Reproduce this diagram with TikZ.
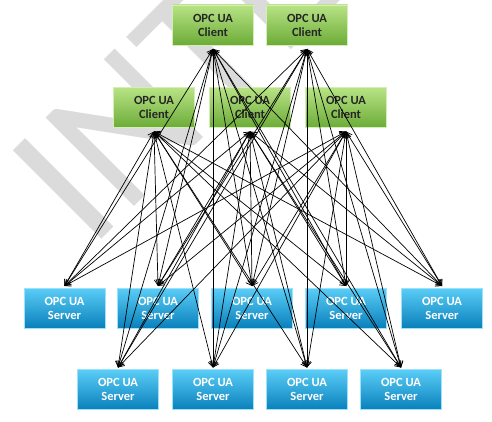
\documentclass[tikz,border=0pt]{standalone}
\usepackage{fontspec}
\setmainfont{Carlito}
\usetikzlibrary{arrows.meta}
\definecolor{gtop}{HTML}{B8E385}
\definecolor{gbot}{HTML}{6CAC38}
\definecolor{btop}{HTML}{5ACEF7}
\definecolor{bbot}{HTML}{0A80BC}
\definecolor{wm}{HTML}{DBDBDB}
\tikzset{
  box/.style={minimum width=81pt, minimum height=40pt, inner sep=0pt, align=center,
    font=\fontsize{12.5}{14}\selectfont\bfseries},
  client/.style={box, top color=gtop, bottom color=gbot, draw=gtop!60!white, line width=0.6pt,
    text=black!85, outer ysep=4pt},
  server/.style={box, top color=btop, bottom color=bbot, draw=btop!60!white, line width=0.6pt,
    text=white, outer ysep=2pt},
  link/.style={draw=black, line width=0.7pt, {Straight Barb[length=5.5pt,width=7pt]}-{Straight Barb[length=5.5pt,width=7pt]}},
  watermark/.style={text=wm, font=\fontsize{195}{195}\selectfont, inner sep=0pt, rotate=45, anchor=base west}
}
\begin{document}
\begin{tikzpicture}[x=1pt,y=-1pt]
\useasboundingbox (0,0) rectangle (492,422);
\clip (0,0) rectangle (492,422);
\node[watermark] (wmark) at (90,251) {INTERNAL};
\node[client] (c1) at (213,25) {OPC UA\\Client};
\node[client] (c2) at (307,25) {OPC UA\\Client};
\node[client] (c3) at (154,107.5) {OPC UA\\Client};
\node[client] (c4) at (250,107.5) {OPC UA\\Client};
\node[client] (c5) at (346,107.5) {OPC UA\\Client};
\node[server] (s1) at (64.5,308) {OPC UA\\Server};
\node[server] (s2) at (158,308) {OPC UA\\Server};
\node[server] (s3) at (252,308) {OPC UA\\Server};
\node[server] (s4) at (346,308) {OPC UA\\Server};
\node[server] (s5) at (442,308) {OPC UA\\Server};
\node[server] (s6) at (118,389.5) {OPC UA\\Server};
\node[server] (s7) at (213,389.5) {OPC UA\\Server};
\node[server] (s8) at (307,389.5) {OPC UA\\Server};
\node[server] (s9) at (401,389.5) {OPC UA\\Server};
\foreach \c in {c1,c2,c3,c4,c5}{
  \foreach \s in {s1,s2,s3,s4,s5,s6,s7,s8,s9}{
    \draw[link] (\c.south) -- (\s.north);
  }
}
\end{tikzpicture}
\end{document}
